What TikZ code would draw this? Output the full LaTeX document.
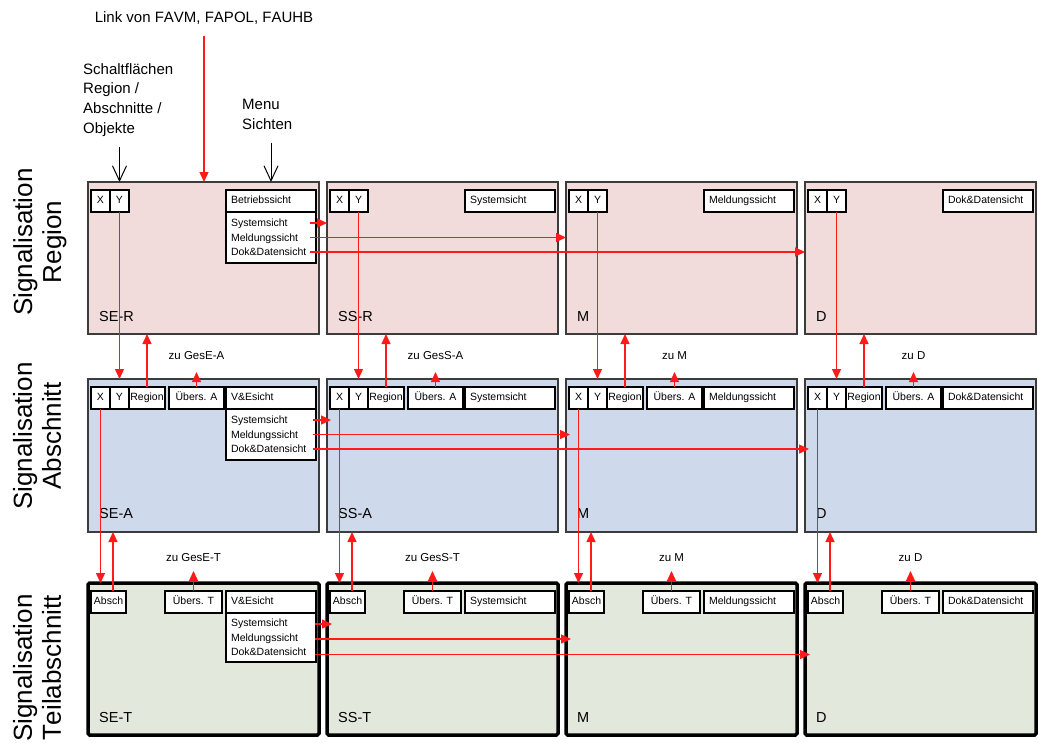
\documentclass[tikz,border=0pt]{standalone}
\usepackage{fontspec}
\setmainfont{Liberation Sans}[Kerning=Off]
\usetikzlibrary{arrows.meta,positioning}
\definecolor{regionfill}{HTML}{F2DCDB}
\definecolor{abschfill}{HTML}{CFD9EC}
\definecolor{teilfill}{HTML}{E3E8DD}
\definecolor{panelline}{HTML}{3C3C3C}
\definecolor{linkred}{HTML}{FF1A1A}
\newcommand{\boxfont}{\fontsize{10.5}{12}\selectfont}
\newcommand{\menufont}{\fontsize{10.5}{14.5}\selectfont}
\newcommand{\notefont}{\fontsize{15}{19.7}\selectfont}
\tikzset{panel/.style={draw=panelline,line width=1.3pt,outer sep=0pt,inner sep=0pt,
  minimum width=231pt,anchor=north west},
  regionpanel/.style={panel,fill=regionfill,minimum height=152pt},
  abschpanel/.style={panel,fill=abschfill,minimum height=153pt},
  teilpanel/.style={panel,draw=black,line width=3.5pt,rounded corners=1.5pt,
  fill=teilfill,minimum height=152pt},
  boxbase/.style={draw=black,line width=1.1pt,fill=white,outer sep=0pt,inner sep=0pt},
  btn/.style={boxbase,minimum height=22pt,text height=7.8pt,text depth=2.2pt,font=\boxfont},
  viewbox/.style={btn,text width=80pt,inner xsep=5pt,align=left},
  menubox/.style={boxbase,text width=80pt,inner xsep=5pt,align=left,
  minimum height=51pt,font=\menufont},
  paneltag/.style={inner sep=3pt,font=\fontsize{14.5}{17}\selectfont},
  zulabel/.style={inner sep=3pt,font=\fontsize{11.5}{14}\selectfont},
  note/.style={inner sep=3pt,font=\notefont},
  sidelabel/.style={rotate=90,align=center,inner sep=0pt,font=\fontsize{26}{29}\selectfont},
  redarrow/.style={draw=linkred,line width=1.4pt,-{Triangle[length=10pt,width=9pt]}},
  blackarrow/.style={draw=black,line width=1pt,-{Straight Barb[length=15pt,width=14pt]}}}

\begin{document}
\begin{tikzpicture}[x=1pt,y=-1pt]
\useasboundingbox (0,0) rectangle (1038,742);
% row titles
\node[sidelabel] (sideR) at (40,242) {Signalisation\\Region};
\node[sidelabel] (sideA) at (37,436) {Signalisation\\Abschnitt};
\node[sidelabel] (sideT) at (37,668) {Signalisation\\Teilabschnitt};
% one column per view
\foreach \c/\xx/\rview/\aview/\rname/\aname/\tname/\zuA/\zuT in {
  1/88/Betriebssicht/V\&Esicht/SE-R/SE-A/SE-T/zu GesE-A/zu GesE-T,
  2/327/Systemsicht/Systemsicht/SS-R/SS-A/SS-T/zu GesS-A/zu GesS-T,
  3/566/Meldungssicht/Meldungssicht/M/M/M/zu M/zu M,
  4/805/Dok\&Datensicht/Dok\&Datensicht/D/D/D/zu D/zu D}{
  % Region
  \node[regionpanel] (R\c) at (\xx,182) {};
  \node[paneltag,above right=9pt and 8pt of R\c.south west] (tagR\c) {\rname};
  \node[btn,minimum width=19pt,below right=8pt and 3pt of R\c.north west] (XR\c) {X};
  \node[btn,minimum width=19pt,right=0pt of XR\c] (YR\c) {Y};
  \node[viewbox,below right=8pt and 138pt of R\c.north west] (VR\c) {\rview};
  % Abschnitt
  \node[abschpanel] (A\c) at (\xx,379) {};
  \node[paneltag,above right=10pt and 8pt of A\c.south west] (tagA\c) {\aname};
  \node[btn,minimum width=19pt,below right=8pt and 3pt of A\c.north west] (XA\c) {X};
  \node[btn,minimum width=19pt,right=0pt of XA\c] (YA\c) {Y};
  \node[btn,minimum width=36pt,right=0pt of YA\c] (RegA\c) {Region};
  \node[btn,minimum width=55pt,right=4pt of RegA\c] (UebA\c) {Übers. A};
  \node[viewbox,below right=8pt and 138pt of A\c.north west] (VA\c) {\aview};
  \node[zulabel,above=24pt of UebA\c] (zuA\c) {\zuA};
  % Teilabschnitt
  \node[teilpanel] (T\c) at (\xx,583) {};
  \node[paneltag,above right=9pt and 8pt of T\c.south west] (tagT\c) {\tname};
  \node[btn,minimum width=35pt,below right=8pt and 3pt of T\c.north west] (AbT\c) {Absch};
  \node[viewbox,below right=8pt and 138pt of T\c.north west] (VT\c) {\aview};
  \node[btn,minimum width=57pt,left=4pt of VT\c] (UebT\c) {Übers. T};
  \node[zulabel,above=26pt of UebT\c] (zuT\c) {\zuT};
  % links between the levels
  \draw[redarrow] (YR\c.south) -- (YR\c.south |- A\c.north);
  \draw[redarrow] (RegA\c.north) -- (RegA\c.north |- R\c.south);
  \draw[redarrow,shorten >=9pt] (UebA\c.north) -- (zuA\c.south);
  \draw[redarrow] (XA\c.south) -- (XA\c.south |- T\c.north);
  \draw[redarrow] ([xshift=4.5pt]AbT\c.north) -- ([xshift=4.5pt]AbT\c.north |- A\c.south);
  \draw[redarrow,shorten >=6pt] (UebT\c.north) -- (zuT\c.south);
}
% view menus
\node[menubox,below=0pt of VR1] (menuR) {Systemsicht\\Meldungssicht\\Dok\&Datensicht};
\node[menubox,below=0pt of VA1] (menuA) {Systemsicht\\Meldungssicht\\Dok\&Datensicht};
\node[menubox,minimum height=49pt,below=0pt of VT1] (menuT) {Systemsicht\\Meldungssicht\\Dok\&Datensicht};
\draw[redarrow] ([xshift=-6pt,yshift=14.5pt]menuR.east) -- ([yshift=14.5pt]menuR.east -| R2.west);
\draw[redarrow] ([xshift=-6pt]menuR.east) -- (menuR.east -| R3.west);
\draw[redarrow] ([xshift=-6pt,yshift=-14.5pt]menuR.east) -- ([yshift=-14.5pt]menuR.east -| R4.west);
\draw[redarrow] ([xshift=-3pt,yshift=14.5pt]menuA.east) -- ([xshift=4pt,yshift=14.5pt]menuA.east -| A2.west);
\draw[redarrow] ([xshift=-3pt]menuA.east) -- ([xshift=4pt]menuA.east -| A3.west);
\draw[redarrow] ([xshift=-3pt,yshift=-14.5pt]menuA.east) -- ([xshift=4pt,yshift=-14.5pt]menuA.east -| A4.west);
\draw[redarrow] ([xshift=-1pt,yshift=13.5pt]menuT.east) -- ([xshift=5pt,yshift=13.5pt]menuT.east -| T2.west);
\draw[redarrow] ([xshift=-1pt,yshift=-1.5pt]menuT.east) -- ([xshift=5pt,yshift=-1.5pt]menuT.east -| T3.west);
\draw[redarrow] ([xshift=-1pt,yshift=-17pt]menuT.east) -- ([xshift=5pt,yshift=-17pt]menuT.east -| T4.west);
% notes on top
\node[note] (link) at (204,18) {Link von FAVM, FAPOL, FAUHB};
\draw[redarrow,shorten <=8pt] (link.south) -- (link.south |- R1.north);
\node[note,align=left,anchor=north west,inner sep=0pt] (buttons) at (83,63)
{Schaltflächen\\Region /\\Abschnitte /\\Objekte};
\draw[blackarrow,shorten <=11pt] (buttons.south -| YR1.north) -- (YR1.north |- R1.north);
\node[note,align=left,anchor=north west,inner sep=0pt] (menulabel) at (242,99) {Menu\\Sichten};
\draw[blackarrow,shorten <=13pt] (menulabel.south -| VR1.north) -- (VR1.north |- R1.north);
\end{tikzpicture}
\end{document}
